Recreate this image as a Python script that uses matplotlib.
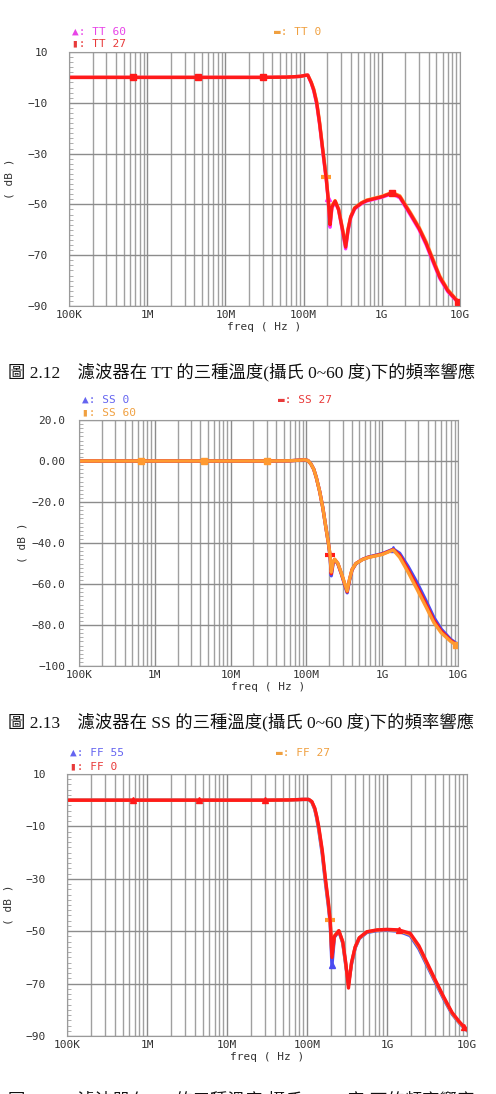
import matplotlib
matplotlib.use("Agg")
import matplotlib.pyplot as plt
from matplotlib.ticker import LogLocator, MultipleLocator, NullFormatter

# ---- data ----
x_ticks = [1e5, 1e6, 1e7, 1e8, 1e9, 1e10]
x_labels = ["100K", "1M", "10M", "100M", "1G", "10G"]

# figure 2.12 : TT
f_tt = [1e5, 6.6e5, 4.5e6, 3e7, 6e7, 9e7, 1.05e8, 1.13e8, 1.25e8, 1.35e8, 1.47e8,
        1.6e8, 1.78e8, 1.95e8, 2.05e8, 2.18e8, 2.3e8, 2.53e8, 2.8e8, 3.1e8, 3.45e8,
        3.7e8, 4e8, 4.5e8, 5.5e8, 6.4e8, 1e9, 1.35e9, 1.7e9, 2.3e9, 3e9, 3.7e9,
        4.5e9, 5.5e9, 7e9, 9.5e9, 1e10]
tt27 = [0, 0, 0, 0, 0.1, 0.4, 0.8, 0.9, -2, -5, -10, -18, -30, -40, -47, -58, -51,
        -48.7, -52, -59, -66.8, -60, -55, -51.5, -49.5, -48.5, -47, -45.5, -47,
        -53.5, -59.5, -65.4, -72, -78.6, -84, -88.5, -89]
tt0 = [0, 0, 0, 0, 0.1, 0.4, 0.8, 0.9, -1.8, -4.6, -9.5, -17.5, -29.5, -39.4, -46.5,
       -57, -50.5, -48.5, -51.8, -58.5, -66, -59.5, -54.8, -51.3, -49.3, -48.3, -46.8,
       -45.3, -46.6, -53, -59, -64.8, -71.4, -78.1, -83.6, -88.3, -88.8]
tt60 = [0, 0, 0, 0, 0.1, 0.4, 0.8, 0.9, -2.2, -5.4, -10.5, -18.5, -30.5, -40.5, -47.5,
        -59, -51.5, -49, -52.3, -59.5, -67.5, -60.5, -55.3, -51.8, -49.7, -48.7, -47.2,
        -45.8, -47.4, -54, -60, -66, -72.6, -79.1, -84.4, -88.7, -89.2]

# figure 2.13 : SS
f_ss = [1e5, 6.6e5, 4.5e6, 3e7, 6e7, 8e7, 9.5e7, 1.05e8, 1.15e8, 1.25e8, 1.35e8,
        1.5e8, 1.65e8, 1.8e8, 1.95e8, 2.05e8, 2.13e8, 2.25e8, 2.36e8, 2.6e8, 2.9e8,
        3.2e8, 3.45e8, 3.7e8, 4e8, 4.5e8, 5.5e8, 6.5e8, 1e9, 1.4e9, 1.7e9, 2.2e9,
        2.9e9, 3.8e9, 4.8e9, 6e9, 8e9, 9.5e9, 1e10]
ss27 = [0, 0, 0, 0, 0.1, 0.4, 0.6, 0.2, -1.5, -4, -8, -15, -23, -32, -40, -46, -55,
        -49.5, -48, -50, -55, -60, -63.8, -58, -53, -50, -48, -47, -45.4, -43.2, -46,
        -53, -61.4, -70, -77.7, -83, -87.5, -89.5, -90]
ss0 = [0, 0, 0, 0, 0.1, 0.4, 0.6, 0.2, -1.5, -4, -8, -15, -23, -32, -40, -46.5, -56,
       -50, -48.2, -50.2, -55.3, -60.4, -64.3, -58.3, -53.2, -50.1, -48, -46.9, -45.2,
       -43, -45, -51.5, -59.5, -68.3, -76.3, -82, -87, -89, -89.6]
ss60 = [0, 0, 0, 0, 0.1, 0.4, 0.6, 0.2, -1.5, -4, -8, -15, -23, -32, -40, -45.6, -54.2,
        -49.2, -47.9, -49.9, -54.8, -59.7, -63.4, -57.8, -52.9, -50, -48.1, -47.1,
        -45.6, -43.4, -47, -54.3, -62.8, -71.3, -78.8, -83.8, -88, -89.8, -90.2]

# figure 2.14 : FF
f_ff = [1e5, 6.6e5, 4.5e6, 3e7, 6e7, 9e7, 1.05e8, 1.15e8, 1.25e8, 1.32e8, 1.4e8,
        1.55e8, 1.7e8, 1.85e8, 1.95e8, 2.05e8, 2.2e8, 2.5e8, 2.8e8, 3.05e8, 3.3e8,
        3.6e8, 4e8, 4.5e8, 5.6e8, 7.5e8, 1e9, 1.4e9, 1.95e9, 2.5e9, 3.2e9, 4e9,
        5.1e9, 6.5e9, 8e9, 9.1e9, 1e10]
ff0 = [0, 0, 0, 0, 0.1, 0.3, 0.3, -0.5, -3, -6, -10, -19, -30, -39, -46, -60, -52,
       -49.8, -54, -62, -71.7, -62, -56, -52.5, -50.2, -49.5, -49.3, -49.5, -50.8,
       -55.5, -62.3, -68.5, -75, -81, -84.5, -86.4, -87.5]
ff27 = [0, 0, 0, 0, 0.1, 0.3, 0.3, -0.6, -3.2, -6.3, -10.5, -19.5, -30.5, -39.5, -45.7,
        -59, -51.8, -49.8, -54.2, -62.5, -70.5, -62.2, -56.1, -52.6, -50.3, -49.6,
        -49.4, -49.7, -51.2, -56, -62.8, -68.9, -75.3, -81.3, -84.8, -86.6, -87.7]
ff55 = [0, 0, 0, 0, 0.1, 0.3, 0.3, -0.8, -3.5, -6.8, -11.2, -20.5, -31.5, -40.5, -47,
        -63, -52.3, -50, -54.6, -63, -70, -62.6, -56.4, -52.8, -50.5, -49.8, -49.6,
        -50, -51.7, -56.7, -63.4, -69.4, -75.8, -81.6, -85, -86.8, -87.9]

# ---- layout ----
W, H = 496, 1094
fig = plt.figure(figsize=(W / 100, H / 100), dpi=100)
mono = ["DejaVu Sans Mono", "DejaVu Sans"]
cap_font = ["Liberation Serif", "Noto Sans CJK TC"]

RED = "#ff1a1a"
ORANGE = "#ff9a30"
MAGENTA = "#ff30ff"
BLUE = "#4b4bf0"


def make_ax(l, r, t, b):
    return fig.add_axes([l / W, 1 - b / H, (r - l) / W, (b - t) / H])


def style(ax, ylim, yticks, ylabels, ypad):
    ax.set_xscale("log")
    ax.set_xlim(1e5, 1e10)
    ax.set_ylim(*ylim)
    ax.set_xticks(x_ticks)
    ax.set_xticklabels(x_labels, family=mono, fontsize=8, color="#333333")
    ax.xaxis.set_minor_locator(LogLocator(base=10, subs=range(2, 10), numticks=30))
    ax.xaxis.set_minor_formatter(NullFormatter())
    ax.set_yticks(yticks)
    ax.set_yticklabels(ylabels, family=mono, fontsize=8, color="#333333")
    ax.yaxis.set_minor_locator(MultipleLocator(2))
    ax.grid(which="major", color="#8c8c8c", lw=1.0)
    ax.grid(which="minor", axis="x", color="#a0a0a0", lw=1.0)
    ax.tick_params(axis="both", which="major", length=0)
    ax.tick_params(axis="x", which="major", pad=3)
    ax.tick_params(axis="y", which="major", pad=ypad)
    ax.tick_params(axis="x", which="minor", length=0)
    ax.tick_params(axis="y", which="minor", direction="in", length=3, color="#a0a0a0")
    for s in ax.spines.values():
        s.set_color("#9a9a9a")
    ax.set_xlabel("freq ( Hz )", family=mono, fontsize=8, color="#333333", labelpad=1)


def marks(f, where):
    return [f.index(m) for m in where]


def curve(ax, f, y, color, marker, where, ms=4.5):
    kw = dict(color=color, lw=2.4, solid_joinstyle="round")
    if marker == "_":
        ax.plot(f, y, marker="_", markersize=7, mew=3, markevery=marks(f, where), **kw)
    else:
        ax.plot(f, y, marker=marker, markersize=ms, markevery=marks(f, where),
                mec=color, mfc=color, **kw)


def legend(items, x0, x1, y0, y1):
    for (sym, name, color), (x, y) in zip(items, [(x0, y0), (x0, y1), (x1, y0)]):
        fig.text(x / W, 1 - y / H, sym + ": " + name, family=mono, fontsize=8,
                 color=color, va="center", ha="left")


def caption(y, s):
    fig.text(8 / W, 1 - y / H, s, family=cap_font, fontsize=12.5, color="#111111",
             va="center", ha="left")


# panel 1 - TT
ax1 = make_ax(69, 460, 52, 306)
style(ax1, (-90, 10), [10, -10, -30, -50, -70, -90],
      ["10", "−10", "−30", "−50", "−70", "−90"], 15)
curve(ax1, f_tt, tt60, MAGENTA, "^", [2.05e8])
curve(ax1, f_tt, tt0, ORANGE, "_", [1.95e8])
curve(ax1, f_tt, tt27, RED, "s", [6.6e5, 4.5e6, 3e7, 1.35e9, 9.5e9])
ax1.set_ylabel("( dB )", family=mono, fontsize=8, color="#333333")
ax1.yaxis.set_label_coords(-54 / 391, 0.5)
legend([("▲", "TT 60", "#e844e8"), ("▮", "TT 27", "#e83a3a"), ("▬", "TT 0", "#f0a040")],
       72, 274, 32, 43)
caption(372, "圖 2.12　濾波器在 TT 的三種溫度(攝氏 0~60 度)下的頻率響應")

# panel 2 - SS
ax2 = make_ax(79, 458, 420, 666)
style(ax2, (-100, 20), [20, 0, -20, -40, -60, -80, -100],
      ["20.0", "0.00", "−20.0", "−40.0", "−60.0", "−80.0", "−100"], 10)
curve(ax2, f_ss, ss0, BLUE, "^", [1.4e9])
curve(ax2, f_ss, ss27, RED, "_", [2.05e8])
curve(ax2, f_ss, ss60, ORANGE, "s", [6.6e5, 4.5e6, 3e7, 9.5e9])
ax2.set_ylabel("( dB )", family=mono, fontsize=8, color="#333333")
ax2.yaxis.set_label_coords(-51 / 379, 0.5)
legend([("▲", "SS 0", "#6464f0"), ("▮", "SS 60", "#f0a040"), ("▬", "SS 27", "#e83a3a")],
       82, 278, 400, 412)
caption(722, "圖 2.13　濾波器在 SS 的三種溫度(攝氏 0~60 度)下的頻率響應")

# panel 3 - FF
ax3 = make_ax(67, 467, 774, 1036)
style(ax3, (-90, 10), [10, -10, -30, -50, -70, -90],
      ["10", "−10", "−30", "−50", "−70", "−90"], 15)
curve(ax3, f_ff, ff55, BLUE, "^", [2.05e8])
curve(ax3, f_ff, ff27, ORANGE, "_", [1.95e8])
curve(ax3, f_ff, ff0, RED, "^", [6.6e5, 4.5e6, 3e7, 1.4e9, 9.1e9])
ax3.set_ylabel("( dB )", family=mono, fontsize=8, color="#333333")
ax3.yaxis.set_label_coords(-54 / 400, 0.5)
legend([("▲", "FF 55", "#6464f0"), ("▮", "FF 0", "#e83a3a"), ("▬", "FF 27", "#f0a040")],
       70, 276, 753, 766)
caption(1100, "圖 2.14　濾波器在 FF 的三種溫度(攝氏 0~55 度)下的頻率響應")

fig.savefig("out.png", dpi=100, facecolor="white")
